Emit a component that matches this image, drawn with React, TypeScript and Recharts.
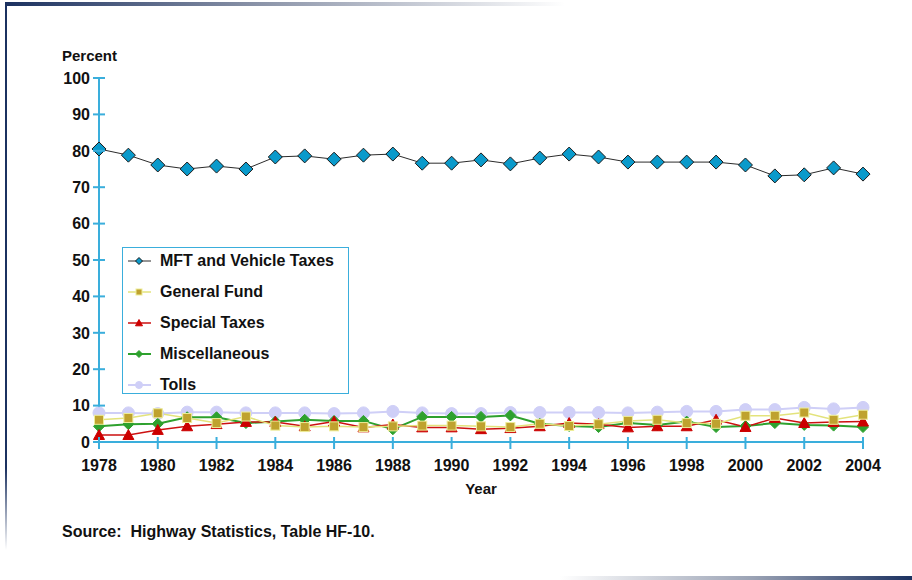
import React from 'react'
import { LineChart, Line, XAxis, YAxis, Legend } from 'recharts'

// Share of highway revenue by source, percent
const YEARS = [1978, 1979, 1980, 1981, 1982, 1983, 1984, 1985, 1986, 1987, 1988, 1989, 1990, 1991, 1992, 1993, 1994, 1995, 1996, 1997, 1998, 1999, 2000, 2001, 2002, 2003, 2004]
const MFT = [80.5, 78.8, 76.1, 75.0, 75.8, 75.0, 78.3, 78.6, 77.7, 78.8, 79.1, 76.6, 76.6, 77.5, 76.4, 78.0, 79.1, 78.3, 76.9, 76.9, 76.9, 76.9, 76.1, 73.1, 73.4, 75.3, 73.6]
const GENERAL_FUND = [6.1, 6.6, 7.9, 6.6, 5.2, 7.0, 4.5, 4.1, 4.3, 4.1, 4.3, 4.5, 4.5, 4.3, 4.1, 5.0, 4.4, 4.9, 5.8, 6.1, 5.2, 5.0, 7.2, 7.2, 8.1, 6.1, 7.5]
const SPECIAL = [1.9, 1.9, 3.3, 4.3, 4.9, 5.5, 5.5, 4.3, 5.6, 4.0, 4.8, 4.0, 4.0, 3.5, 3.8, 4.3, 5.2, 4.9, 4.0, 4.3, 4.3, 6.1, 4.1, 6.6, 5.2, 5.5, 5.6]
const MISC = [4.3, 4.9, 5.0, 6.8, 6.8, 5.2, 5.6, 6.1, 5.8, 5.8, 3.5, 6.9, 6.9, 6.9, 7.3, 5.0, 4.4, 4.1, 5.2, 4.7, 5.6, 4.1, 4.4, 5.2, 4.7, 4.5, 4.1]
const TOLLS = [8.0, 8.0, 7.8, 8.2, 8.2, 8.0, 8.0, 8.0, 7.8, 8.0, 8.4, 8.0, 7.8, 7.8, 8.1, 8.1, 8.1, 8.1, 8.0, 8.2, 8.4, 8.4, 8.9, 8.9, 9.5, 9.1, 9.5]

const X_TICKS = [1978, 1980, 1982, 1984, 1986, 1988, 1990, 1992, 1994, 1996, 1998, 2000, 2002, 2004]
const Y_TICKS = [0, 10, 20, 30, 40, 50, 60, 70, 80, 90, 100]

const data = YEARS.map((year, i) => ({
  year,
  mft: MFT[i],
  generalFund: GENERAL_FUND[i],
  special: SPECIAL[i],
  misc: MISC[i],
  tolls: TOLLS[i],
}))

const AXIS = '#3aaedc'
const FONT = '"Liberation Sans", Arial, Helvetica, sans-serif'
const NAVY = '#1b3160'

type Shape = 'diamond' | 'square' | 'triangle' | 'circle'

function Marker({ shape, cx, cy, r, fill, stroke, sw = 1 }: any) {
  if (cx == null || cy == null) return null
  if (shape === 'diamond') {
    return <polygon points={`${cx},${cy - r} ${cx + r},${cy} ${cx},${cy + r} ${cx - r},${cy}`} fill={fill} stroke={stroke} strokeWidth={sw} />
  }
  if (shape === 'square') {
    return <rect x={cx - r} y={cy - r} width={r * 2} height={r * 2} fill={fill} stroke={stroke} strokeWidth={sw} />
  }
  if (shape === 'triangle') {
    return <polygon points={`${cx},${cy - r} ${cx + r},${cy + r * 0.8} ${cx - r},${cy + r * 0.8}`} fill={fill} stroke={stroke} strokeWidth={sw} />
  }
  return <circle cx={cx} cy={cy} r={r} fill={fill} stroke={stroke} strokeWidth={sw} />
}

// legend order; draw order is below
const SERIES: { key: string; name: string; line: string; width: number; shape: Shape; fill: string; stroke: string; r: number; lr: number }[] = [
  { key: 'mft', name: 'MFT and Vehicle Taxes', line: '#2b2b2b', width: 1, shape: 'diamond', fill: '#0a9acb', stroke: '#1a1a1a', r: 7, lr: 3.5 },
  { key: 'generalFund', name: 'General Fund', line: '#e3e37c', width: 1.5, shape: 'square', fill: '#bfa22e', stroke: '#eeee99', r: 4.5, lr: 3 },
  { key: 'special', name: 'Special Taxes', line: '#cc1111', width: 1.5, shape: 'triangle', fill: '#cc0000', stroke: '#cc0000', r: 5.5, lr: 3.5 },
  { key: 'misc', name: 'Miscellaneous', line: '#2ea12e', width: 2, shape: 'diamond', fill: '#2ea12e', stroke: '#2ea12e', r: 5.5, lr: 3.5 },
  { key: 'tolls', name: 'Tolls', line: '#cfcff7', width: 2, shape: 'circle', fill: '#cfcff7', stroke: '#cfcff7', r: 6, lr: 3.5 },
]
const DRAW_ORDER = ['tolls', 'misc', 'special', 'generalFund', 'mft']

const YTick = ({ x, y, payload }: any) => (
  <g>
    <line x1={x - 6} x2={x + 6} y1={y} y2={y} stroke={AXIS} strokeWidth={2} />
    <text x={x - 9} y={y} dy="0.36em" textAnchor="end" fontFamily={FONT} fontWeight="bold" fontSize={16} fill="#111">
      {payload.value}
    </text>
  </g>
)

const XTick = ({ x, y, payload }: any) => (
  <g>
    <line x1={x} x2={x} y1={y - 5} y2={y + 7} stroke={AXIS} strokeWidth={2} />
    <text x={x} y={y + 29} textAnchor="middle" fontFamily={FONT} fontWeight="bold" fontSize={16} fill="#111">
      {payload.value}
    </text>
  </g>
)

function LegendBox() {
  return (
    <div style={{ fontFamily: FONT, fontWeight: 'bold', fontSize: 16, color: '#111', marginTop: -2 }}>
      {SERIES.map((s) => (
        <div key={s.key} style={{ height: 30.8, display: 'flex', alignItems: 'center' }}>
          <svg width={26} height={14} style={{ marginLeft: 4, marginRight: 7 }}>
            <line x1={1} x2={24} y1={7} y2={7} stroke={s.line} strokeWidth={s.width} />
            <Marker shape={s.shape} cx={12} cy={7} r={s.lr} fill={s.fill} stroke={s.stroke} />
          </svg>
          <span>{s.name}</span>
        </div>
      ))}
    </div>
  )
}

export default function App() {
  return (
    <div style={{ position: 'absolute', left: 0, top: 0, width: 912, height: 580, background: '#fff', overflow: 'hidden' }}>
      {/* slide frame */}
      <div style={{ position: 'absolute', left: 5, top: 2, width: 560, height: 4, background: `linear-gradient(to right, ${NAVY}, #8a93a8 45%, rgba(255,255,255,0))` }} />
      <div style={{ position: 'absolute', left: 5, top: 2, width: 2, height: 548, background: `linear-gradient(to bottom, ${NAVY} 85%, rgba(255,255,255,0))` }} />
      <div style={{ position: 'absolute', left: 560, top: 576, width: 352, height: 4, background: `linear-gradient(to right, rgba(255,255,255,0), #9aa2b4 55%, ${NAVY})` }} />

      <LineChart width={912} height={580} data={data} margin={{ top: 78, right: 49, bottom: 108, left: 59 }}>
        <XAxis
          dataKey="year"
          type="number"
          domain={[1978, 2004]}
          ticks={X_TICKS}
          interval={0}
          height={30}
          axisLine={{ stroke: AXIS, strokeWidth: 2 }}
          tickLine={false}
          tickSize={0}
          tickMargin={0}
          tick={<XTick />}
          label={(p: any) => (
            <text x={p.viewBox.x + p.viewBox.width / 2} y={p.viewBox.y + 52} textAnchor="middle" fontFamily={FONT} fontWeight="bold" fontSize={15} fill="#111">
              Year
            </text>
          )}
        />
        <YAxis
          type="number"
          domain={[0, 100]}
          ticks={Y_TICKS}
          interval={0}
          width={40}
          axisLine={{ stroke: AXIS, strokeWidth: 2 }}
          tickLine={false}
          tickSize={0}
          tickMargin={0}
          tick={<YTick />}
          label={(p: any) => (
            <text x={p.viewBox.x + 3} y={p.viewBox.y - 17} fontFamily={FONT} fontWeight="bold" fontSize={15} fill="#111">
              Percent
            </text>
          )}
        />
        <Legend
          layout="vertical"
          align="center"
          verticalAlign="middle"
          content={() => <LegendBox />}
          wrapperStyle={{ left: 122, top: 247, width: 227, height: 147, border: `1px solid ${AXIS}`, background: '#fff', boxSizing: 'border-box' }}
        />
        {DRAW_ORDER.map((k) => {
          const s = SERIES.find((q) => q.key === k)!
          return (
            <Line
              key={s.key}
              dataKey={s.key}
              name={s.name}
              type="linear"
              stroke={s.line}
              strokeWidth={s.width}
              isAnimationActive={false}
              activeDot={false}
              dot={(p: any) => <Marker key={`${s.key}-${p.index}`} shape={s.shape} cx={p.cx} cy={p.cy} r={s.r} fill={s.fill} stroke={s.stroke} />}
            />
          )
        })}
      </LineChart>

      <div style={{ position: 'absolute', left: 62, top: 523, fontFamily: FONT, fontWeight: 'bold', fontSize: 16, color: '#111' }}>
        Source:&nbsp; Highway Statistics, Table HF-10.
      </div>
    </div>
  )
}
